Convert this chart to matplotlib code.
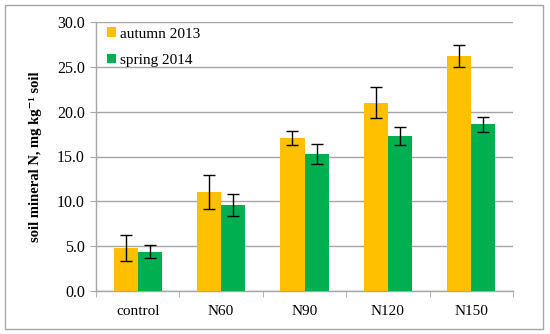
import matplotlib
matplotlib.use("Agg")
import matplotlib.pyplot as plt
import numpy as np
from matplotlib.patches import Rectangle

categories = ["control", "N60", "N90", "N120", "N150"]
series_names = ["autumn 2013", "spring 2014"]
autumn = [4.8, 11.0, 17.1, 21.0, 26.2]
autumn_err = [1.45, 1.9, 0.77, 1.72, 1.27]
spring = [4.4, 9.6, 15.3, 17.3, 18.6]
spring_err = [0.7, 1.25, 1.14, 1.04, 0.85]
yticks = [0, 5, 10, 15, 20, 25, 30]

plt.rcParams['font.family'] = ['Liberation Serif', 'DejaVu Serif']

W, H = 550, 334
fig = plt.figure(figsize=(W/100, H/100), dpi=100)
ax = fig.add_axes([96/W, 1-291/H, (513-96)/W, (291-22)/H])

x = np.arange(len(categories))
bw = 0.29
cols = ["#FFC000", "#00B050"]
ax.bar(x - bw/2, autumn, bw, color=cols[0], label=series_names[0], zorder=3)
ax.bar(x + bw/2, spring, bw, color=cols[1], label=series_names[1], zorder=3)
ax.errorbar(x - bw/2, autumn, yerr=autumn_err, fmt='none', ecolor='black',
            elinewidth=1, capsize=4, capthick=1, zorder=4)
ax.errorbar(x + bw/2, spring, yerr=spring_err, fmt='none', ecolor='black',
            elinewidth=1, capsize=4, capthick=1, zorder=4)

ax.set_xlim(-0.5, len(categories) - 0.5)
ax.set_ylim(0, 30)
ax.set_yticks(yticks)
ax.set_yticklabels([f"{v:.1f}" for v in yticks], fontsize=11.5)
ax.yaxis.grid(True, color="#A6A6A6", linewidth=1, zorder=0)
ax.set_axisbelow(True)

ax.set_xticks(x)
ax.set_xticklabels(categories, fontsize=11)
ax.set_xticks(np.arange(len(categories) + 1) - 0.5, minor=True)
ax.tick_params(axis='x', which='major', length=0, pad=10)
ax.tick_params(axis='x', which='minor', length=4, color="#A6A6A6", direction='out')
ax.tick_params(axis='y', length=4, color="#A6A6A6", direction='out', pad=4)

for s in ["top", "right"]:
    ax.spines[s].set_visible(False)
for s in ["left", "bottom"]:
    ax.spines[s].set_color("#A6A6A6")
    ax.spines[s].set_linewidth(1)

ax.set_ylabel("soil mineral N, mg kg\u207b\u00b9 soil", fontsize=10.5,
              fontweight='bold', labelpad=11)

leg = ax.legend(loc='upper left', bbox_to_anchor=(0.0, 1.02), frameon=False,
                fontsize=11, handlelength=0.6, handleheight=0.6,
                handletextpad=0.25, labelspacing=0.85, borderaxespad=0.3)

fig.patches.append(Rectangle((5/W, 1-329/H), (543-5)/W, (329-5)/H,
                             transform=fig.transFigure, fill=False,
                             edgecolor="#A6A6A6", linewidth=1))

fig.savefig("out.png", dpi=100)
